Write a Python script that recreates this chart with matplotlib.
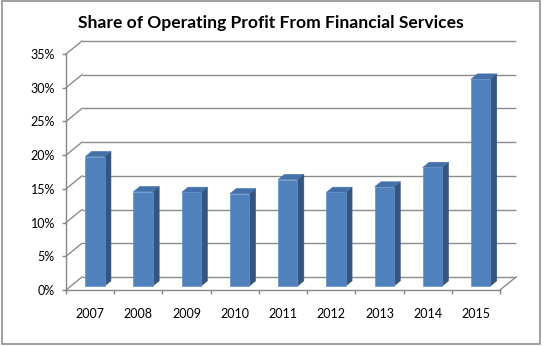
import matplotlib
matplotlib.use("Agg")
import matplotlib.pyplot as plt
from matplotlib.patches import Polygon, Rectangle

# Data
years = ["2007", "2008", "2009", "2010", "2011", "2012", "2013", "2014", "2015"]
share_pct = [19.2, 14.0, 13.9, 13.7, 15.8, 13.9, 14.7, 17.6, 30.7]
y_ticks = [0, 5, 10, 15, 20, 25, 30, 35]
y_tick_labels = ["0%", "5%", "10%", "15%", "20%", "25%", "30%", "35%"]
title = "Share of Operating Profit From Financial Services"

W, H, DPI = 545, 346, 100
fig = plt.figure(figsize=(W / DPI, H / DPI), dpi=DPI)
fig.patch.set_facecolor("white")

# plot box (front plane) in pixels
px_left, px_right, px_bottom, px_top = 66, 500, 290, 54
ax = fig.add_axes([px_left / W, (H - px_bottom) / H,
                   (px_right - px_left) / W, (px_bottom - px_top) / H])
n = len(years)
ymax = 35
ax.set_xlim(0, n)
ax.set_ylim(0, ymax)
ax.set_facecolor("none")

# oblique depth offset: 16 px right, 13 px up for full depth
ux = (px_right - px_left) / n
uy = (px_bottom - px_top) / ymax
DX = 16 / ux
DY = 13 / uy


def proj(x, y, d):
    return (x + d * DX, y + d * DY)


grid_c = "#8C8C8C"
axis_c = "#868686"
lw = 1.0

# back wall gridlines and left wall diagonals
for t in y_ticks:
    x0, y0 = proj(0, t, 1)
    x1, y1 = proj(n, t, 1)
    ax.plot([x0, x1], [y0, y1], color=grid_c, lw=lw, clip_on=False, zorder=1,
            solid_capstyle="butt")
    fx, fy = proj(0, t, 0)
    ax.plot([fx, x0], [fy, y0], color=grid_c, lw=lw, clip_on=False, zorder=1)

# floor right edge
rx0, ry0 = proj(n, 0, 0)
rx1, ry1 = proj(n, 0, 1)
ax.plot([rx0, rx1], [ry0, ry1], color=grid_c, lw=lw, clip_on=False, zorder=1)

# 3D bars
front_c = "#4F81BD"
side_c = "#34557F"
top_c = "#4471AA"
bw = 0.4
d0, d1 = 0.3, 0.7
for i, v in enumerate(share_pct):
    xl = i + (1 - bw) / 2
    xr = xl + bw
    front = [proj(xl, 0, d0), proj(xr, 0, d0), proj(xr, v, d0), proj(xl, v, d0)]
    side = [proj(xr, 0, d0), proj(xr, 0, d1), proj(xr, v, d1), proj(xr, v, d0)]
    top = [proj(xl, v, d0), proj(xr, v, d0), proj(xr, v, d1), proj(xl, v, d1)]
    ax.add_patch(Polygon(side, closed=True, facecolor=side_c, edgecolor=side_c,
                         lw=0.4, clip_on=False, zorder=3))
    ax.add_patch(Polygon(top, closed=True, facecolor=top_c, edgecolor=top_c,
                         lw=0.4, clip_on=False, zorder=3))
    ax.add_patch(Polygon(front, closed=True, facecolor=front_c, edgecolor="#6391C9",
                         lw=0.5, clip_on=False, zorder=4))

# axes: front spines
for s in ("top", "right"):
    ax.spines[s].set_visible(False)
for s in ("left", "bottom"):
    ax.spines[s].set_color(axis_c)
    ax.spines[s].set_linewidth(lw)
    ax.spines[s].set_zorder(5)

label_font = "Lato"
ax.set_yticks(y_ticks)
ax.set_yticklabels(y_tick_labels, fontsize=9, family=label_font)
ax.tick_params(axis="y", direction="out", length=3, width=lw, color=axis_c, pad=5)

ax.set_xticks([i + 0.5 for i in range(n)])
ax.set_xticklabels(years, fontsize=9, family=label_font)
ax.tick_params(axis="x", which="major", length=0, pad=13)
ax.set_xticks(range(n + 1), minor=True)
ax.tick_params(axis="x", which="minor", direction="out", length=3, width=lw, color=axis_c)

fig.text(271 / W, 1 - 23 / H, title, ha="center", va="center",
         fontsize=12.6, fontweight="bold", family=label_font)

# outer border
fig.patches.append(Rectangle((1.5 / W, 2 / H), 538.5 / W, 343.5 / H,
                             transform=fig.transFigure, fill=False,
                             edgecolor="#868686", lw=1.1))

fig.savefig("out.png", dpi=DPI, facecolor="white")
